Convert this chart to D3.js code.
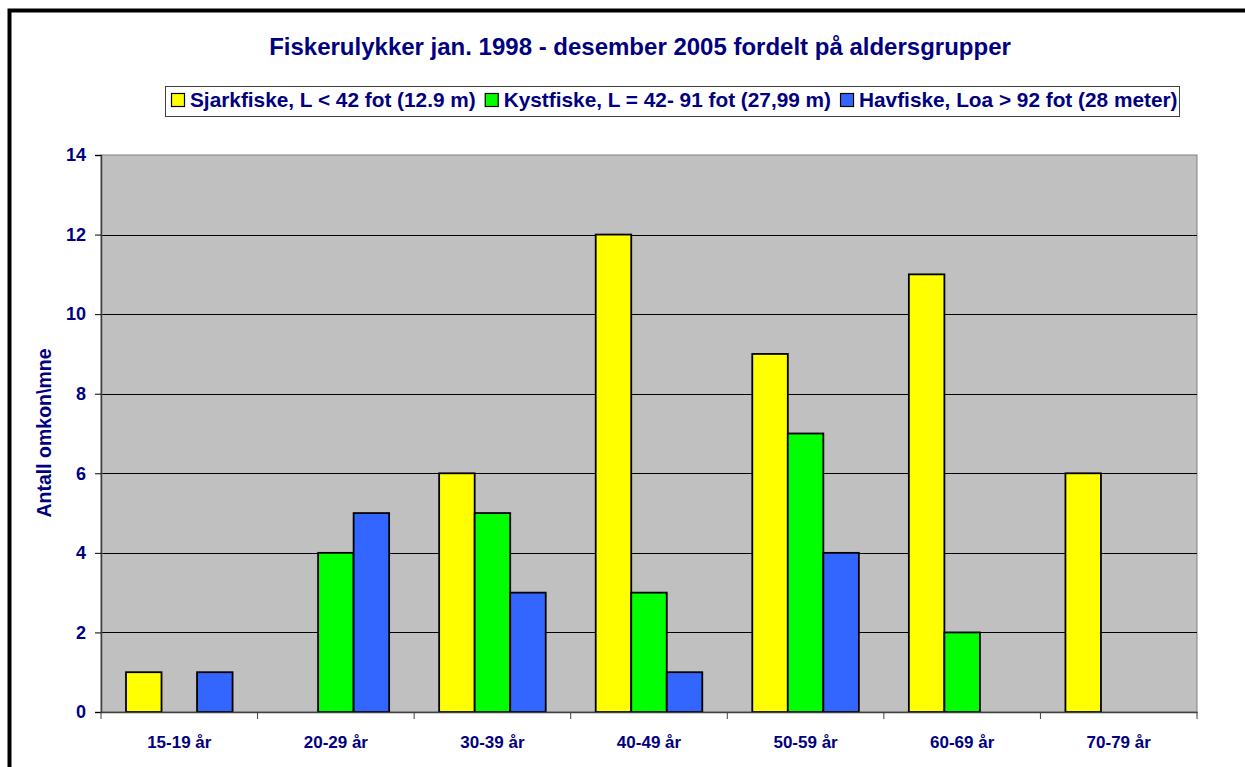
<!DOCTYPE html>
<html>
<head>
<meta charset="utf-8">
<script src="https://cdn.jsdelivr.net/npm/d3@7"></script>
<style>
  body { margin: 0; background: #fff; }
  svg { display: block; font-family: "Liberation Sans", Arial, sans-serif; }
</style>
</head>
<body>
<svg id="chart" width="1245" height="767"></svg>
<script>
const categories = ["15-19 år", "20-29 år", "30-39 år", "40-49 år", "50-59 år", "60-69 år", "70-79 år"];
const seriesNames = ["Sjarkfiske, L < 42 fot (12.9 m)", "Kystfiske, L = 42- 91 fot (27,99 m)", "Havfiske, Loa > 92 fot (28 meter)"];
const sjark = [1, 0, 6, 12, 9, 11, 6];
const kyst = [0, 4, 5, 3, 7, 2, 0];
const hav = [1, 5, 3, 1, 4, 0, 0];
const yTicks = [0, 2, 4, 6, 8, 10, 12, 14];

const colors = ["#FFFF00", "#00FF00", "#3366FF"];
const navy = "#000080";
const series = [sjark, kyst, hav];
const font = "Liberation Sans, Arial, sans-serif";

const svg = d3.select("#chart");
const plot = { left: 101, top: 155, right: 1197, bottom: 712 };

// outer frame
svg.append("rect")
    .attr("x", 9.5).attr("y", 10.5)
    .attr("width", 1260).attr("height", 800)
    .attr("fill", "#fff").attr("stroke", "#000").attr("stroke-width", 4);

// title
svg.append("text")
    .attr("x", 640).attr("y", 55)
    .attr("text-anchor", "middle")
    .attr("font-size", 24).attr("font-weight", "bold")
    .attr("fill", navy)
    .text("Fiskerulykker jan. 1998 - desember 2005 fordelt på aldersgrupper");

const x = d3.scaleBand().domain(categories).range([plot.left, plot.right]).padding(0);
const xs = d3.scaleBand().domain([0, 1, 2]).range([25, x.bandwidth() - 25]).padding(0);
const y = d3.scaleLinear().domain([0, 14]).range([plot.bottom, plot.top]);

// plot background
svg.append("rect")
    .attr("x", plot.left).attr("y", plot.top)
    .attr("width", plot.right - plot.left).attr("height", plot.bottom - plot.top)
    .attr("fill", "#C0C0C0").attr("stroke", "#808080").attr("stroke-width", 1);

// gridlines
svg.append("g").selectAll("line")
    .data(yTicks.filter(d => d > 0 && d < 14))
    .join("line")
    .attr("x1", plot.left).attr("x2", plot.right)
    .attr("y1", d => Math.round(y(d)) + 0.5).attr("y2", d => Math.round(y(d)) + 0.5)
    .attr("stroke", "#000").attr("stroke-width", 1);

// bars
const groups = svg.append("g").selectAll("g")
    .data(series)
    .join("g")
    .attr("fill", (d, i) => colors[i]);
groups.selectAll("rect")
    .data((d, si) => d.map((v, ci) => ({ v, ci, si })).filter(e => e.v > 0))
    .join("rect")
    .attr("x", e => x(categories[e.ci]) + xs(e.si))
    .attr("y", e => y(e.v))
    .attr("width", xs.bandwidth())
    .attr("height", e => y(0) - y(e.v))
    .attr("stroke", "#000").attr("stroke-width", 1.8);

// y axis
const yAxis = svg.append("g")
    .attr("transform", `translate(${plot.left},0)`)
    .call(d3.axisLeft(y).tickValues(yTicks).tickSize(6).tickPadding(9).tickFormat(d3.format("d")));
yAxis.select(".domain").attr("stroke", "#404040").attr("stroke-width", 1.5);
yAxis.selectAll(".tick line").attr("stroke", "#000");
yAxis.selectAll("text")
    .attr("font-size", 18).attr("font-weight", "bold")
    .attr("fill", navy).attr("font-family", font);

// x axis
const xAxis = svg.append("g")
    .attr("transform", `translate(0,${plot.bottom})`)
    .call(d3.axisBottom(x).tickSize(0).tickPadding(24));
xAxis.select(".domain").attr("stroke", "#404040").attr("stroke-width", 1.5);
xAxis.selectAll("text")
    .attr("font-size", 17).attr("font-weight", "bold")
    .attr("fill", navy).attr("font-family", font);
xAxis.append("g").selectAll("line")
    .data(categories.concat(["end"]))
    .join("line")
    .attr("x1", (d, i) => i < categories.length ? x(d) : plot.right)
    .attr("x2", (d, i) => i < categories.length ? x(d) : plot.right)
    .attr("y1", 0).attr("y2", 7)
    .attr("stroke", "#404040");

// y label
svg.append("text")
    .attr("transform", "translate(51,433) rotate(-90)")
    .attr("text-anchor", "middle")
    .attr("font-size", 19.5).attr("font-weight", "bold")
    .attr("fill", navy)
    .text("Antall omkon\\mne");

// legend
const legend = svg.append("g");
legend.append("rect")
    .attr("x", 165.5).attr("y", 86.5).attr("width", 1014).attr("height", 30)
    .attr("fill", "#fff").attr("stroke", "#404040").attr("stroke-width", 1);
let lx = 171;
seriesNames.forEach((name, i) => {
    legend.append("rect")
        .attr("x", lx + 0.5).attr("y", 93.5).attr("width", 13).attr("height", 13)
        .attr("fill", colors[i]).attr("stroke", "#000").attr("stroke-width", 1.2);
    const t = legend.append("text")
        .attr("x", lx + 19).attr("y", 107)
        .attr("font-size", 20.8).attr("font-weight", "bold")
        .attr("fill", navy)
        .text(name);
    lx += 19 + t.node().getComputedTextLength() + 9;
});
</script>
</body>
</html>
